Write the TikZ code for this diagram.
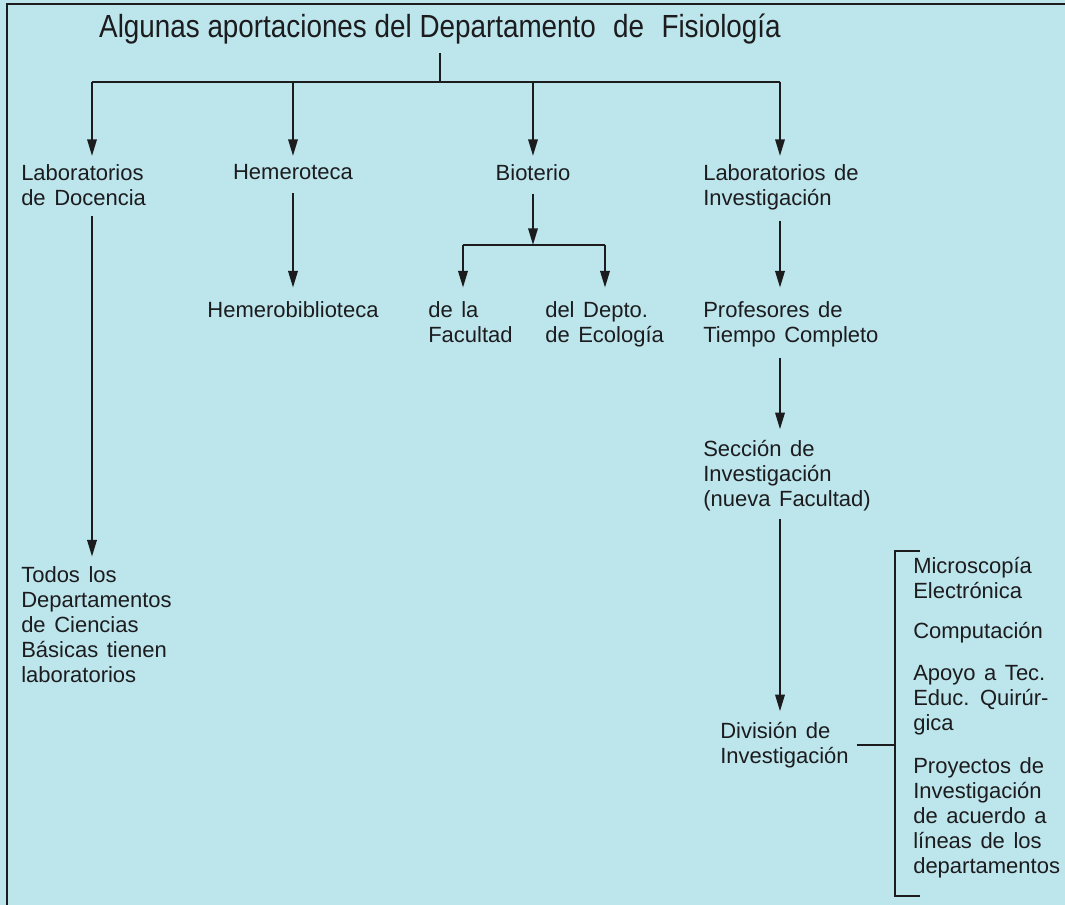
\documentclass[tikz,border=0pt]{standalone}
\usepackage{fontspec}
\setmainfont{Liberation Sans}[WordSpace=1.4]
\newfontfamily\titlefont{Liberation Sans}[FakeStretch=0.87]
\usetikzlibrary{arrows.meta}
\definecolor{bgc}{RGB}{188,229,236}
\definecolor{ink}{RGB}{28,28,30}
\begin{document}
\begin{tikzpicture}[x=0.75pt,y=-0.75pt,
  lbl/.style={font=\fontsize{16.5pt}{18.75pt}\selectfont, align=left, inner sep=0pt, anchor=north west, text=ink},
  ln/.style={line width=1.7pt, draw=ink},
  arr/.style={ln, -{Triangle[length=12.5pt,width=7pt]}},
  frame/.style={line width=2pt, draw=ink}]
\fill[bgc] (0,0) rectangle (1065,905);
\useasboundingbox (0,0) rectangle (1065,905);
\draw[frame] (7,905) -- (7,4) -- (1065,4);

% title
\node[font=\titlefont\fontsize{24pt}{24pt}\selectfont, inner sep=0pt, anchor=base, text=ink] (title) at (440,38)
  {Algunas aportaciones del Departamento\hspace{0.3em} de\hspace{0.3em} Fisiología};

\coordinate (j0) at (440,82);
\coordinate (j1) at (92,82);
\coordinate (j2) at (293,82);
\coordinate (j3) at (533,82);
\coordinate (j4) at (780,82);

% first level
\node[lbl] (labdoc) at (21,164) {Laboratorios\\de Docencia};
\node[lbl, anchor=north] (hemer) at (293,164) {Hemeroteca};
\node[lbl, anchor=north] (biot) at (533,164) {Bioterio};
\node[lbl] (labinv) at (703,164) {Laboratorios de\\Investigación};

\draw[ln, shorten <=6pt] (title.south -| j0) -- (j0);
\draw[ln] (j1) -- (j4);
\draw[arr, shorten >=6pt] (j1) -- (labdoc.north -| j1);
\draw[arr, shorten >=6pt] (j2) -- (hemer.north);
\draw[arr, shorten >=6pt] (j3) -- (biot.north);
\draw[arr, shorten >=6pt] (j4) -- (labinv.north -| j4);

% Docencia branch
\node[lbl] (todos) at (21,566) {Todos los\\Departamentos\\de Ciencias\\Básicas tienen\\laboratorios};
\draw[arr, shorten <=8pt, shorten >=7pt] (labdoc.south -| j1) -- (todos.north -| j1);

% Hemeroteca branch
\node[lbl, anchor=north] (hemerob) at (293,301) {Hemerobiblioteca};
\draw[arr, shorten <=10pt, shorten >=10pt] (hemer.south) -- (hemerob.north);

% Bioterio branch
\coordinate (b0) at (533,245);
\coordinate (b1) at (463,245);
\coordinate (b2) at (605,245);
\node[lbl] (fac) at (428,301) {de la\\Facultad};
\node[lbl] (eco) at (545,301) {del Depto.\\de Ecología};
\draw[arr, shorten <=10pt] (biot.south) -- (b0);
\draw[ln] (b1) -- (b2);
\draw[arr, shorten >=10pt] (b1) -- (fac.north -| b1);
\draw[arr, shorten >=10pt] (b2) -- (eco.north -| b2);

% Investigacion branch
\coordinate (v) at (780,0);
\node[lbl] (prof) at (703,301) {Profesores de\\Tiempo Completo};
\node[lbl] (sec) at (703,440) {Sección de\\Investigación\\(nueva Facultad)};
\node[lbl] (div) at (720,722) {División de\\Investigación};
\draw[arr, shorten <=8pt, shorten >=10pt] (labinv.south -| v) -- (prof.north -| v);
\draw[arr, shorten <=8pt, shorten >=8pt] (prof.south -| v) -- (sec.north -| v);
\draw[arr, shorten <=6pt, shorten >=8pt] (sec.south -| v) -- (div.north -| v);

% bracket
\coordinate (bm) at (895,745);
\coordinate (bt) at (895,551);
\coordinate (bb) at (895,896);
\coordinate (btr) at (920,551);
\coordinate (bbr) at (920,896);
\draw[ln, shorten <=6pt] (div.east |- bm) -- (bm);
\draw[ln] (btr) -- (bt) -- (bb) -- (bbr);

\node[lbl] (mic) at (913,557) {Microscopía\\Electrónica};
\node[lbl] (comp) at (913,622) {Computación};
\node[lbl] (apoyo) at (913,665) {Apoyo a Tec.\\Educ. Quirúr-\\gica};
\node[lbl] (proy) at (913,757) {Proyectos de\\Investigación\\de acuerdo a\\líneas de los\\departamentos};
\end{tikzpicture}
\end{document}
